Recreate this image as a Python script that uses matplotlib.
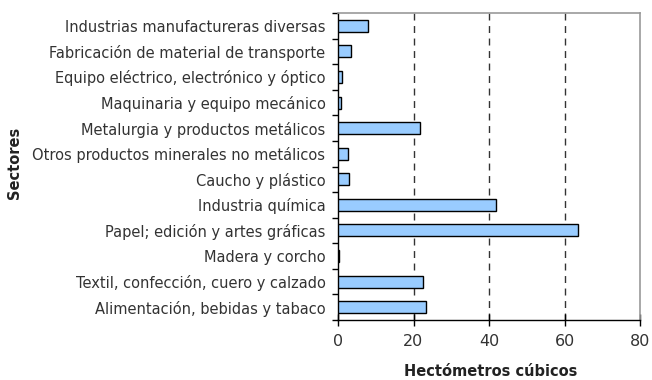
import matplotlib
matplotlib.use("Agg")
import matplotlib.pyplot as plt
import numpy as np

plt.rcParams["font.family"] = ["DejaVu Sans"]

sectores = [
    "Alimentación, bebidas y tabaco",
    "Textil, confección, cuero y calzado",
    "Madera y corcho",
    "Papel; edición y artes gráficas",
    "Industria química",
    "Caucho y plástico",
    "Otros productos minerales no metálicos",
    "Metalurgia y productos metálicos",
    "Maquinaria y equipo mecánico",
    "Equipo eléctrico, electrónico y óptico",
    "Fabricación de material de transporte",
    "Industrias manufactureras diversas",
]
valores = [23.2, 22.5, 0.3, 63.6, 41.9, 3.0, 2.6, 21.6, 0.9, 1.0, 3.4, 7.9]
xticks = [0, 20, 40, 60, 80]

fig = plt.figure(figsize=(6.52, 3.8), dpi=100)
ax = fig.add_axes([338/652, 1-320/380, 302/652, 307/380])

y = np.arange(len(sectores))
ax.barh(y, valores, height=0.47, color="#99CCFF", edgecolor="black", linewidth=1.0, zorder=3)

ax.set_xlim(0, 80)
ax.set_ylim(-0.5, len(sectores) - 0.5)
ax.set_xticks(xticks)
ax.set_xticklabels([str(v) for v in xticks], fontsize=11.5, color="#333333")
for v in [20, 40, 60]:
    ax.axvline(v, color="#333333", linestyle=(0, (5, 4)), linewidth=1.0, zorder=1)

ax.set_yticks(y)
ax.set_yticklabels(sectores, fontsize=10.5, color="#333333")
ax.set_yticks(np.arange(-0.5, len(sectores), 1.0), minor=True)
ax.tick_params(axis="y", which="major", length=0, pad=9)
ax.tick_params(axis="y", which="minor", length=4, direction="out", width=1)
ax.tick_params(axis="x", which="major", length=8, direction="inout", width=1, pad=6)

for s in ["left", "bottom"]:
    ax.spines[s].set_color("black")
    ax.spines[s].set_linewidth(1.0)
for s in ["top", "right"]:
    ax.spines[s].set_color("#999999")
    ax.spines[s].set_linewidth(1.2)

fig.text(491/652, 1-372/380, "Hectómetros cúbicos", ha="center", va="center",
         fontsize=10.5, fontweight="bold", color="#222222")
fig.text(15/652, 1-163/380, "Sectores", ha="center", va="center", rotation=90,
         fontsize=10.5, fontweight="bold", color="#222222")

fig.savefig("out.png", dpi=100)
